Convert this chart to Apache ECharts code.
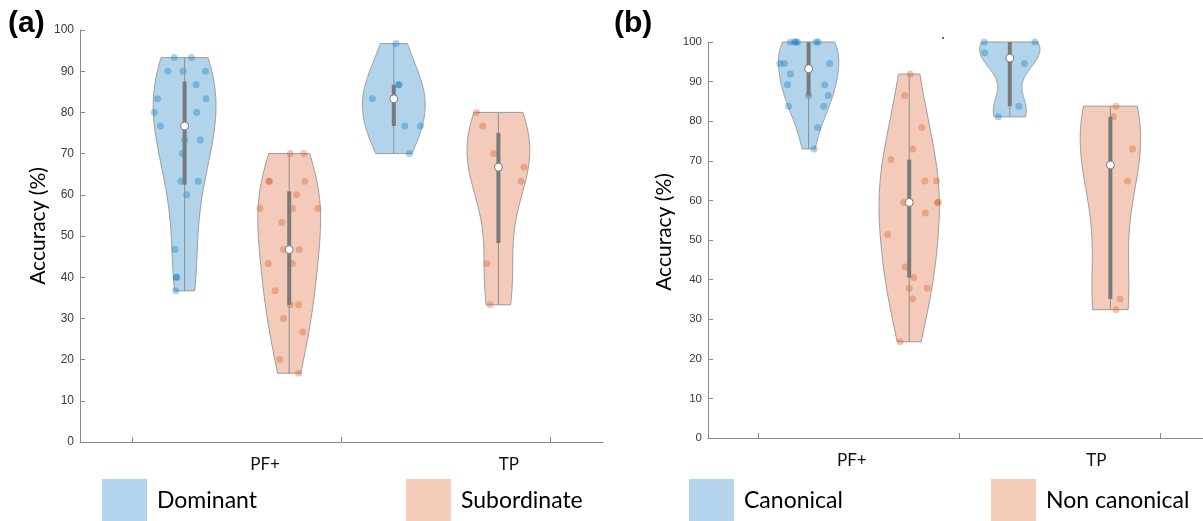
<!DOCTYPE html>
<html><head><meta charset="utf-8">
<script src="https://cdn.jsdelivr.net/npm/echarts@6/dist/echarts.min.js"></script>
<style>html,body{margin:0;padding:0;background:#fff}#c{width:1203px;height:521px}</style>
</head><body><div id="c"></div>
<script>
// ---------- data ----------
const categories = ['PF+', 'TP'];
const groupsA = ['Dominant', 'Subordinate'];
const groupsB = ['Canonical', 'Non canonical'];
const yTicks = [0, 10, 20, 30, 40, 50, 60, 70, 80, 90, 100];

// Panel (a)
const domPFVals = [93.3, 93.3, 90, 90, 90, 86.7, 83.3, 83.3, 80, 80, 76.7, 73.3, 73.3, 70, 63.3, 63.3, 60, 46.7, 40, 40, 36.7];
const domPFJit  = [-0.10, 0.065, -0.16, -0.015, 0.20, 0.11, -0.26, 0.205, -0.29, 0.115, -0.23, 0.00, 0.15, -0.02, -0.035, 0.13, 0.02, -0.09, -0.08, -0.075, -0.085];
const subPFVals = [70, 70, 63.3, 63.3, 63.3, 60, 56.7, 56.7, 56.7, 53.3, 46.7, 46.7, 43.3, 43.3, 36.7, 33.3, 33.3, 30, 26.7, 20, 16.7];
const subPFJit  = [0.01, 0.14, -0.195, -0.19, 0.15, 0.07, -0.28, 0.035, 0.275, -0.07, -0.055, 0.095, -0.20, 0.03, -0.135, 0.01, 0.09, -0.055, 0.13, -0.09, 0.09];
const domTPVals = [96.7, 86.7, 86.7, 83.3, 76.7, 76.7, 70];
const domTPJit  = [0.02, 0.045, 0.05, -0.205, 0.105, 0.255, 0.15];
const subTPVals = [80, 76.7, 70, 66.7, 63.3, 43.3, 33.3];
const subTPJit  = [-0.21, -0.15, -0.045, 0.245, 0.215, -0.11, -0.08];

// Panel (b)
const canPFVals = [100, 100, 100, 100, 100, 100, 94.6, 94.6, 94.6, 91.9, 89.2, 89.2, 86.5, 86.5, 83.8, 83.8, 78.4, 73.0];
const canPFJit  = [-0.18, -0.14, -0.125, -0.11, 0.075, 0.095, -0.285, -0.24, 0.21, -0.18, -0.21, 0.16, 0.00, 0.195, -0.20, 0.15, 0.09, 0.055];
const ncPFVals  = [91.9, 86.5, 78.4, 73.0, 70.3, 64.9, 64.9, 59.5, 59.5, 59.5, 56.8, 51.4, 43.2, 40.5, 37.8, 37.8, 35.1, 24.3];
const ncPFJit   = [0.01, -0.045, 0.125, 0.035, -0.18, 0.155, 0.27, -0.055, 0.29, 0.28, 0.16, -0.215, -0.04, 0.045, 0.00, 0.18, 0.035, -0.09];
const canTPVals = [100, 100, 97.3, 94.6, 83.8, 81.1];
const canTPJit  = [-0.255, 0.25, -0.25, 0.145, 0.09, -0.115];
const ncTPVals  = [83.8, 81.1, 73.0, 64.9, 35.1, 32.4];
const ncTPJit   = [0.055, 0.03, 0.22, 0.17, 0.095, 0.055];

// ---------- styling ----------
const BASE = ['#0072BD', '#D95319'];
const LEGEND_FILL = ['#b3d4ec', '#f5cbba'];
const FONT = 'Lato';

// ---------- statistics ----------
function sorted(a) { return [...a].sort((x, y) => x - y); }
function median(a) { const s = sorted(a), n = s.length; return n % 2 ? s[(n - 1) / 2] : (s[n / 2 - 1] + s[n / 2]) / 2; }
function quantileM(a, p) { // MATLAB-style quantile
  const s = sorted(a), n = s.length; const pos = n * p + 0.5;
  if (pos <= 1) return s[0]; if (pos >= n) return s[n - 1];
  const lo = Math.floor(pos), f = pos - lo; return s[lo - 1] + f * (s[lo] - s[lo - 1]);
}
function kdeProfile(vals) {
  const n = vals.length, med = median(vals);
  const mad = median(vals.map(v => Math.abs(v - med)));
  let sig = mad / 0.6745; if (sig <= 0) sig = 1;
  const bw = sig * Math.pow(4 / (3 * n), 0.2);
  const lo = Math.min(...vals), hi = Math.max(...vals);
  const N = 120, pts = [];
  for (let i = 0; i <= N; i++) {
    const y = lo + (hi - lo) * i / N; let d = 0;
    for (const v of vals) { const z = (y - v) / bw; d += Math.exp(-0.5 * z * z); }
    pts.push([y, d]);
  }
  const maxd = Math.max(...pts.map(p => p[1]));
  return pts.map(p => [p[0], p[1] / maxd * 0.3]);
}

const panels = [
  { groups: groupsA, violins: [
    { pos: 1, vals: domPFVals, jit: domPFJit, g: 0 },
    { pos: 2, vals: subPFVals, jit: subPFJit, g: 1 },
    { pos: 3, vals: domTPVals, jit: domTPJit, g: 0 },
    { pos: 4, vals: subTPVals, jit: subTPJit, g: 1 } ] },
  { groups: groupsB, violins: [
    { pos: 1, vals: canPFVals, jit: canPFJit, g: 0 },
    { pos: 2, vals: ncPFVals, jit: ncPFJit, g: 1 },
    { pos: 3, vals: canTPVals, jit: canTPJit, g: 0 },
    { pos: 4, vals: ncTPVals, jit: ncTPJit, g: 1 } ] }
];
panels.forEach(p => p.violins.forEach(v => {
  v.profile = kdeProfile(v.vals);
  v.med = median(v.vals);
  v.q1 = quantileM(v.vals, 0.25);
  v.q3 = quantileM(v.vals, 0.75);
  v.min = Math.min(...v.vals); v.max = Math.max(...v.vals);
}));

// ---------- layout ----------
const gridsPx = [
  { left: 80, top: 30, width: 523, height: 412 },
  { left: 708, top: 42, width: 503, height: 396 }
];
const labelPos = [[1.77, 4.1], [1.43, 3.86]];
const labelFont = [12, 11.5];

const grid = gridsPx.map(g => Object.assign({ containLabel: false, outerBoundsMode: 'none' }, g));
const xAxis = gridsPx.map((g, i) => ({
  type: 'value', gridIndex: i, min: 0, max: 5,
  axisLine: { show: true, lineStyle: { color: '#8a8a8a', width: 1 } },
  axisTick: { show: true, inside: true, length: 5, customValues: [0.5, 2.5, 4.5], lineStyle: { color: '#8a8a8a' } },
  axisLabel: { show: true, customValues: labelPos[i], margin: 14, fontFamily: FONT, fontSize: 17, color: '#111',
    formatter: v => { const k = labelPos[i].findIndex(x => Math.abs(x - v) < 1e-6); return k >= 0 ? categories[k] : ''; } },
  splitLine: { show: false }
}));
const yAxis = gridsPx.map((g, i) => ({
  type: 'value', gridIndex: i, min: yTicks[0], max: yTicks[yTicks.length - 1], interval: yTicks[1] - yTicks[0],
  axisLine: { show: true, lineStyle: { color: '#8a8a8a', width: 1 } },
  axisTick: { show: true, inside: true, length: 5, lineStyle: { color: '#8a8a8a' } },
  axisLabel: { fontFamily: 'Liberation Sans', fontSize: labelFont[i], color: '#3a3a3a', margin: 6 },
  splitLine: { show: false }
}));

const series = [];
panels.forEach((p, pi) => {
  // violins
  series.push({
    type: 'custom', xAxisIndex: pi, yAxisIndex: pi, z: 1, silent: true,
    data: p.violins.map((v, i) => [v.pos, v.med, i]),
    encode: { x: 0, y: 1 },
    renderItem: (params, api) => {
      const v = p.violins[api.value(2)];
      const left = v.profile.map(q => api.coord([v.pos - q[1], q[0]]));
      const right = v.profile.slice().reverse().map(q => api.coord([v.pos + q[1], q[0]]));
      return { type: 'polygon', shape: { points: left.concat(right) },
        style: { fill: BASE[v.g], opacity: 1, fillOpacity: 0.3, stroke: '#9a9a9a', lineWidth: 1 } };
    }
  });
  // scatter per group
  [0, 1].forEach(g => {
    const pts = [];
    p.violins.filter(v => v.g === g).forEach(v => v.vals.forEach((val, k) => pts.push([v.pos + v.jit[k], val])));
    series.push({
      type: 'scatter', name: p.groups[g], xAxisIndex: pi, yAxisIndex: pi, z: 2, silent: true,
      symbolSize: 7, data: pts, itemStyle: { color: BASE[g], opacity: 0.33 }
    });
  });
  // boxes
  series.push({
    type: 'custom', xAxisIndex: pi, yAxisIndex: pi, z: 3, silent: true,
    data: p.violins.map((v, i) => [v.pos, v.med, i]),
    encode: { x: 0, y: 1 },
    renderItem: (params, api) => {
      const v = p.violins[api.value(2)];
      const a = api.coord([v.pos, v.min]), b = api.coord([v.pos, v.max]);
      const q1 = api.coord([v.pos, v.q1]), q3 = api.coord([v.pos, v.q3]);
      const m = api.coord([v.pos, v.med]);
      return { type: 'group', children: [
        { type: 'line', shape: { x1: a[0], y1: a[1], x2: b[0], y2: b[1] }, style: { stroke: '#8f8f8f', lineWidth: 1 } },
        { type: 'line', shape: { x1: q1[0], y1: q1[1], x2: q3[0], y2: q3[1] }, style: { stroke: '#7a7a7a', lineWidth: 4 } },
        { type: 'circle', shape: { cx: m[0], cy: m[1], r: 4 }, style: { fill: '#ffffff', stroke: '#7a7a7a', lineWidth: 1 } }
      ] };
    }
  });
});

// ---------- text & legend graphics ----------
function txt(x, y, text, size, opts) {
  return Object.assign({ type: 'text', x, y, silent: true,
    style: Object.assign({ text, fontFamily: FONT, fontSize: size, fill: '#000',
      textAlign: 'left', textVerticalAlign: 'middle', align: 'left', verticalAlign: 'middle' }, (opts && opts.style) || {}) },
    (opts && opts.el) || {});
}
const graphic = [
  txt(8, 24, '(a)', 30, { style: { fontWeight: 'bold', fontFamily: 'Liberation Sans' } }),
  txt(614, 24, '(b)', 30, { style: { fontWeight: 'bold', fontFamily: 'Liberation Sans' } }),
  txt(38, 226, 'Accuracy (%)', 21, { style: { textAlign: 'center', align: 'center' }, el: { rotation: Math.PI / 2 } }),
  txt(664, 232, 'Accuracy (%)', 21, { style: { textAlign: 'center', align: 'center' }, el: { rotation: Math.PI / 2 } }),
  { type: 'circle', shape: { cx: 943, cy: 38, r: 0.9 }, style: { fill: '#222' }, silent: true }
];
const legendItems = [
  { x: 102, label: groupsA[0], g: 0 }, { x: 406, label: groupsA[1], g: 1 },
  { x: 689, label: groupsB[0], g: 0 }, { x: 991, label: groupsB[1], g: 1 }
];
legendItems.forEach(it => {
  graphic.push({ type: 'rect', shape: { x: it.x, y: 479, width: 45, height: 44 }, style: { fill: LEGEND_FILL[it.g] }, silent: true });
  graphic.push(txt(it.x + 55, 501, it.label, 23));
});

const chart = echarts.init(document.getElementById('c'));
chart.setOption({ animation: false, backgroundColor: '#fff', grid, xAxis, yAxis, series, graphic });
</script></body></html>
